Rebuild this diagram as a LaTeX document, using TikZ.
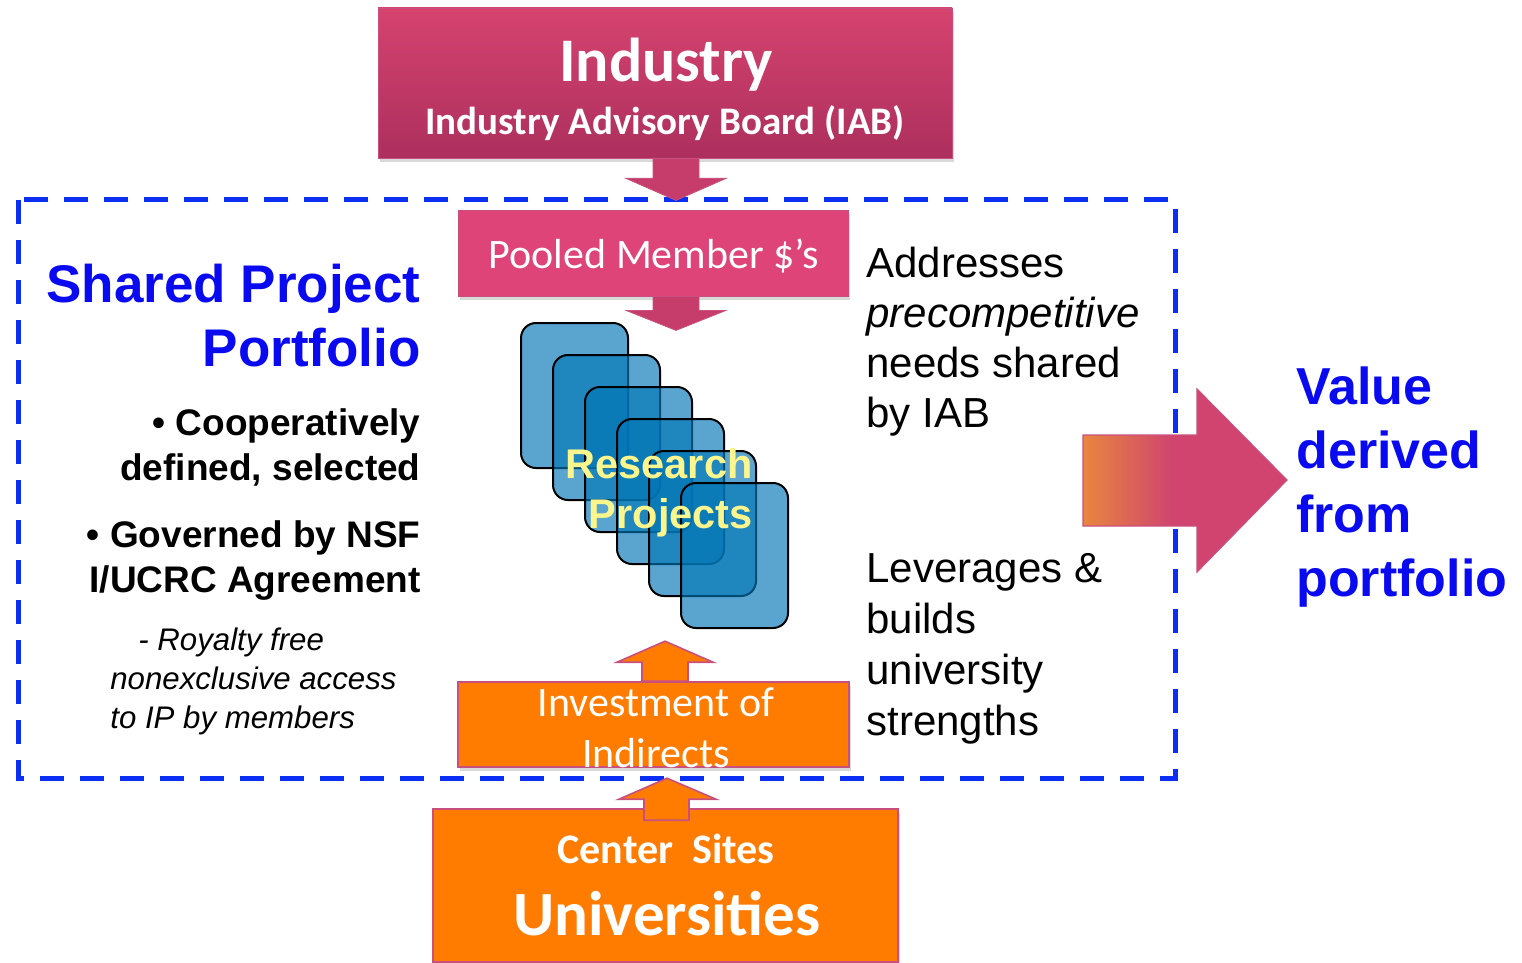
\documentclass[tikz,border=0pt]{standalone}
\usepackage{fontspec}
\setmainfont{Liberation Sans}
\newfontfamily\calibri{Carlito}
\usetikzlibrary{calc,shadows}

\definecolor{indtop}{HTML}{D6436F}
\definecolor{indbot}{HTML}{AC2F5D}
\definecolor{poolpink}{HTML}{DE4478}
\definecolor{arrowpink}{HTML}{C63C6A}
\definecolor{edgepink}{HTML}{C9507E}
\definecolor{uniorange}{HTML}{FF7C00}
\definecolor{dashblue}{HTML}{0A2EF2}
\definecolor{titleblue}{HTML}{0A0AF0}
\definecolor{cardblue}{HTML}{0075B5}
\definecolor{cardtext}{HTML}{FAF58C}
\definecolor{valueorange}{HTML}{E8863E}
\definecolor{valuepink}{HTML}{D0446F}

\pgfdeclarehorizontalshading{valueshade}{100bp}{color(0bp)=(valueorange); color(25bp)=(valueorange); color(47bp)=(valuepink); color(100bp)=(valuepink)}

\tikzset{
    box-shadow/.style = {drop shadow={opacity=0.3, shadow xshift=1pt, shadow yshift=-2pt}},
    pink-box/.style = {draw=edgepink, thin, rectangle, inner sep=0pt, box-shadow},
    orange-box/.style = {draw=edgepink, line width=0.8pt, fill=uniorange, rectangle, inner sep=0pt, box-shadow},
    card/.style = {draw=black, line width=1pt, fill=cardblue, fill opacity=0.65, rounded corners=7.5pt, minimum width=53.5pt, minimum height=72.5pt, inner sep=0pt},
    box-text/.style = {text=white, inner sep=0pt, anchor=base, align=center},
    side-text/.style = {inner sep=0pt, anchor=base west, align=left, font=\fontsize{21}{25.5}\selectfont},
    left-text/.style = {inner sep=0pt, anchor=base east, align=right, font=\bfseries\fontsize{18.5}{22.5}\selectfont},
    down-arrow/.style = {fill=arrowpink, draw=edgepink, thin},
    up-arrow/.style = {fill=uniorange, draw=edgepink, line width=0.8pt},
}

\begin{document}
\begin{tikzpicture}[x=0.5pt, y=-0.5pt]
\useasboundingbox (0,0) rectangle (1522,963);

% shared portfolio frame
\draw[dashblue, line width=2.5pt, dash pattern=on 12pt off 8pt] (18,200) rectangle (1175,778);

% industry side
\node[pink-box, top color=indtop, bottom color=indbot, minimum width=287pt, minimum height=75pt] (industry) at (665,83) {};
\node[box-text, font=\calibri\bfseries\fontsize{31}{36}\selectfont] (industry-title) at (666,82) {Industry};
\node[box-text, font=\calibri\bfseries\fontsize{19.5}{24}\selectfont] (iab) at (665,135) {Industry Advisory Board (IAB)};
\path[down-arrow] ($(industry.south)+(-12,0)$) -- ++(0,20) -- ++(-27,0) -- ++(50,22) -- ++(50,-22) -- ++(-27,0) -- ++(0,-20) -- cycle;

\node[pink-box, fill=poolpink, minimum width=195pt, minimum height=43pt] (pooled) at (653,253) {};
\node[box-text, font=\calibri\fontsize{21}{25}\selectfont] (pooled-text) at (654,269) {Pooled Member \$’s};
\path[down-arrow] (pooled.south) -- ++(0,14) -- ++(-27,0) -- ++(50,20) -- ++(50,-20) -- ++(-27,0) -- ++(0,-14) -- cycle;

% research projects
\foreach \i in {0,...,5}
    \node[card] (card\i) at ({574.5+32*\i},{395.5+32*\i}) {};
\node[inner sep=0pt, anchor=base east, align=right, text=cardtext, font=\bfseries\fontsize{20.75}{25}\selectfont] (research) at (753,528) {Research\\Projects};

% university side
\node[orange-box, minimum width=195.5pt, minimum height=42.5pt] (invest) at (653.5,724.5) {};
\node[box-text, font=\calibri\fontsize{21}{25.5}\selectfont] (invest-text) at (656,767) {Investment of\\Indirects};
\path[up-arrow] ($(invest.north)+(-11.5,0)$) -- ++(0,-19) -- ++(-25,0) -- ++(48,-21) -- ++(48,21) -- ++(-25,0) -- ++(0,19) -- cycle;

\node[orange-box, minimum width=232.5pt, minimum height=76.5pt] (univ) at (665.5,885.5) {};
\node[box-text, font=\calibri\bfseries\fontsize{21}{25}\selectfont] (sites) at (666,863) {Center\ \ Sites};
\node[box-text, font=\calibri\bfseries\fontsize{31.5}{36}\selectfont] (univ-title) at (667,935) {Universities};
\path[up-arrow] ($(univ.north)+(-21.5,12)$) -- ++(0,-21) -- ++(-25,0) -- ++(48,-21) -- ++(49,21) -- ++(-27,0) -- ++(0,21) -- cycle;

% left texts
\node[inner sep=0pt, anchor=base east, align=right, text=titleblue, font=\bfseries\fontsize{26.5}{32}\selectfont] (shared) at (421,366) {Shared Project\\Portfolio};
\node[left-text] (coop) at (421,480) {• Cooperatively\\defined, selected};
\node[left-text] (governed) at (421,592) {• Governed by NSF\\I/UCRC Agreement};
\node[inner sep=0pt, anchor=base west, align=left, font=\itshape\fontsize{15.6}{19.5}\selectfont] (royalty) at (110,728) {\hspace*{14pt}- Royalty free\\nonexclusive access\\to IP by members};

% right texts
\node[side-text, font=\fontsize{21}{25}\selectfont] (addresses) at (866,427) {Addresses\\\textit{precompetitive}\\needs shared\\by IAB};
\node[side-text] (leverages) at (866,735) {Leverages \&\\builds\\university\\strengths};

% value
\coordinate (bigtail) at (1083,480);
\path[shading=valueshade, draw=edgepink, line width=0.6pt] ($(bigtail)+(0,-45)$) -- ++(114,0) -- ++(0,-46) -- ++(90,91) -- ++(-90,92) -- ++(0,-46) -- ++(-114,0) -- cycle;
\node[inner sep=0pt, anchor=base west, align=left, text=titleblue, font=\bfseries\fontsize{26}{32}\selectfont] (value) at (1296,596) {Value\\derived\\from\\portfolio};
\end{tikzpicture}
\end{document}
